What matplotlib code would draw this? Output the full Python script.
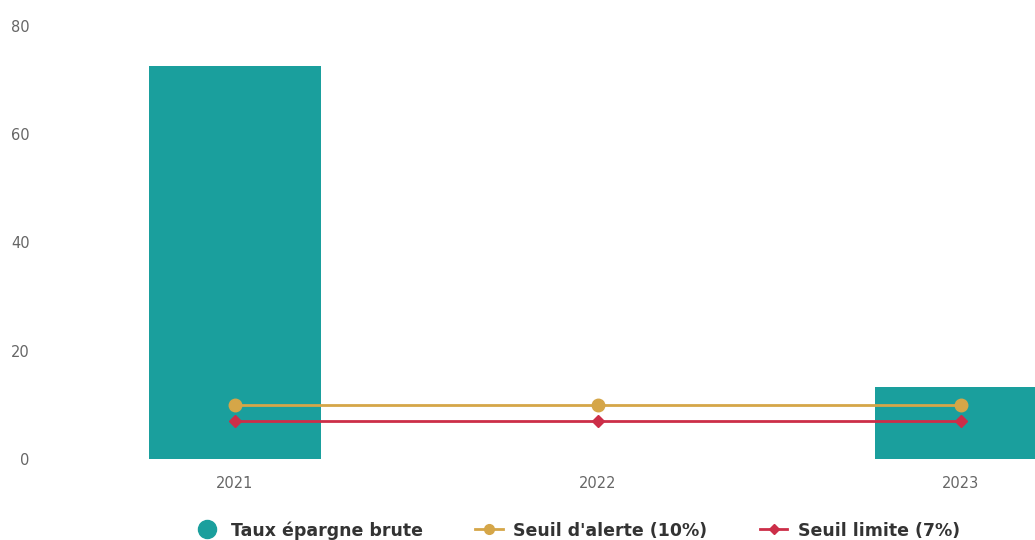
import matplotlib.pyplot as plt
import numpy as np
from matplotlib.lines import Line2D

annees = ['2021', '2022', '2023']
taux_epargne = [72.6, np.nan, 13.3]
seuil_alerte = [10, 10, 10]
seuil_limite = [7, 7, 7]

teal = '#1a9f9d'
gold = '#d5a648'
red = '#cc2e48'

fig = plt.figure(figsize=(10.35, 5.4), dpi=100)
ax = fig.add_axes([45/1035, 81/540, 990/1035, 433/540])

x = np.arange(len(annees))
ax.bar(x, taux_epargne, width=0.474, color=teal, zorder=1)
ax.plot(x, seuil_alerte, color=gold, lw=2, marker='o', ms=9, zorder=3)
ax.plot(x, seuil_limite, color=red, lw=2, marker='D', ms=6, zorder=3)

ax.set_xlim(-0.523, 2.204)
ax.set_ylim(0, 80)
ax.set_yticks([0, 20, 40, 60, 80])
ax.set_xticks(x)
ax.set_xticklabels(annees)
ax.tick_params(axis='both', length=0, labelsize=10.5, colors='#666666')
ax.tick_params(axis='y', pad=11)
ax.tick_params(axis='x', pad=12)
for s in ax.spines.values():
    s.set_visible(False)

handles = [
    Line2D([], [], ls='none', marker='o', ms=13, color=teal),
    Line2D([], [], color=gold, lw=2, marker='o', ms=7),
    Line2D([], [], color=red, lw=2, marker='D', ms=5),
]
labels = ['Taux épargne brute', "Seuil d'alerte (10%)", 'Seuil limite (7%)']
leg = fig.legend(handles, labels, loc='center', bbox_to_anchor=(0.557, 0.018),
                 ncol=3, frameon=False, handlelength=1.6, columnspacing=3.0,
                 handletextpad=0.6, prop={'weight': 'bold', 'size': 12.5})
for t in leg.get_texts():
    t.set_color('#333333')

fig.savefig('out.png', dpi=100)
